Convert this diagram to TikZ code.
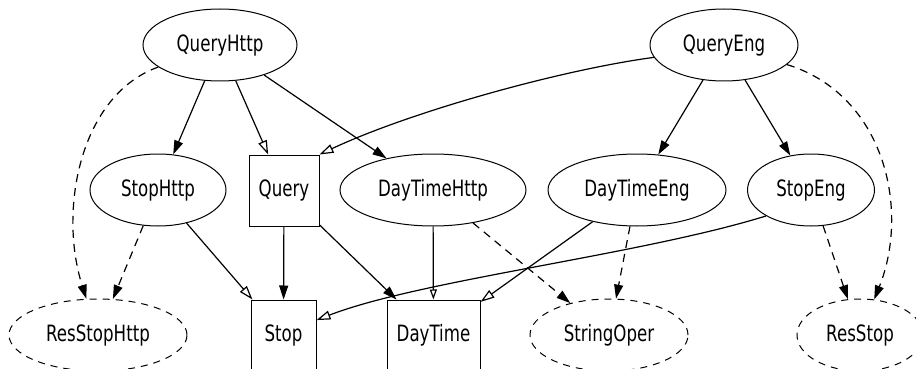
\documentclass[tikz,border=0pt]{standalone}
\usepackage{fontspec}
\setmainfont{DejaVu Sans}[FakeStretch=0.74]
\usetikzlibrary{shapes.geometric,arrows.meta}

\tikzset{
  lbl/.style={font=\fontsize{22.5}{27}\selectfont, inner sep=0pt, line width=1pt},
  oval/.style={lbl, draw, ellipse, minimum height=72pt},
  box/.style={lbl, draw, rectangle, minimum height=71pt},
  ghost/.style={oval, dash pattern=on 7pt off 6pt},
  link/.style={line width=1.2pt, -{Triangle[length=14pt,width=9pt]}},
  weak/.style={line width=1.2pt, -{Triangle[open,length=14pt,width=9pt]}},
  weaksmall/.style={line width=1.2pt, -{Triangle[open,length=10pt,width=7pt]}},
  dep/.style={link, dash pattern=on 8pt off 6pt},
}

\begin{document}
\begin{tikzpicture}[x=1pt,y=-1pt]
  \useasboundingbox (0,0) rectangle (916,369);
  \clip (0,0) rectangle (916,369);

  % top row
  \node[oval, minimum width=154pt] (qh) at (220,45) {QueryHttp};
  \node[oval, minimum width=148pt] (qe) at (724,45) {QueryEng};

  % middle row
  \node[oval, minimum width=136pt] (sh)  at (158,190) {StopHttp};
  \node[box,  minimum width=70pt]  (q)   at (284,190.5) {Query};
  \node[oval, minimum width=186pt] (dth) at (433,190) {DayTimeHttp};
  \node[oval, minimum width=178pt] (dte) at (637,190) {DayTimeEng};
  \node[oval, minimum width=127pt] (se)  at (811,190) {StopEng};

  % bottom row
  \node[ghost, minimum width=178pt] (rsh) at (98,335)  {ResStopHttp};
  \node[box,   minimum width=65pt]  (s)   at (283.5,335.5) {Stop};
  \node[box,   minimum width=93pt]  (dt)  at (433.5,335.5) {DayTime};
  \node[ghost, minimum width=158pt] (so)  at (609,335) {StringOper};
  \node[ghost, minimum width=126pt] (rs)  at (860,335) {ResStop};

  % edges from QueryHttp
  \draw[link] (qh) -- (sh);
  \draw[weak] (qh) -- (q);
  \draw[link] (qh) -- (dth);
  \draw[dep]  (qh) .. controls (80,95) and (58,210) .. (rsh);

  % edges from QueryEng
  \draw[weak] (qe.190) .. controls (560,70) and (410,112) .. (q.north east);
  \draw[link] (qe) -- (dte);
  \draw[link] (qe) -- (se);
  \draw[dep]  (qe) .. controls (885,95) and (910,210) .. (rs);

  % middle row to bottom row
  \draw[dep]  (sh) -- (rsh);
  \draw[weak] (sh) -- (s);
  \draw[link] (q) -- (s);
  \draw[link] (q) -- (dt);
  \draw[weaksmall] (dth) -- (dt);
  \draw[dep]  (dth) -- (so);
  \draw[weak] (dte) -- (dt);
  \draw[dep]  (dte) -- (so);
  \draw[weak] (se.210) .. controls (640,255) and (420,280) .. (s.25);
  \draw[dep]  (se) -- (rs);
\end{tikzpicture}
\end{document}
